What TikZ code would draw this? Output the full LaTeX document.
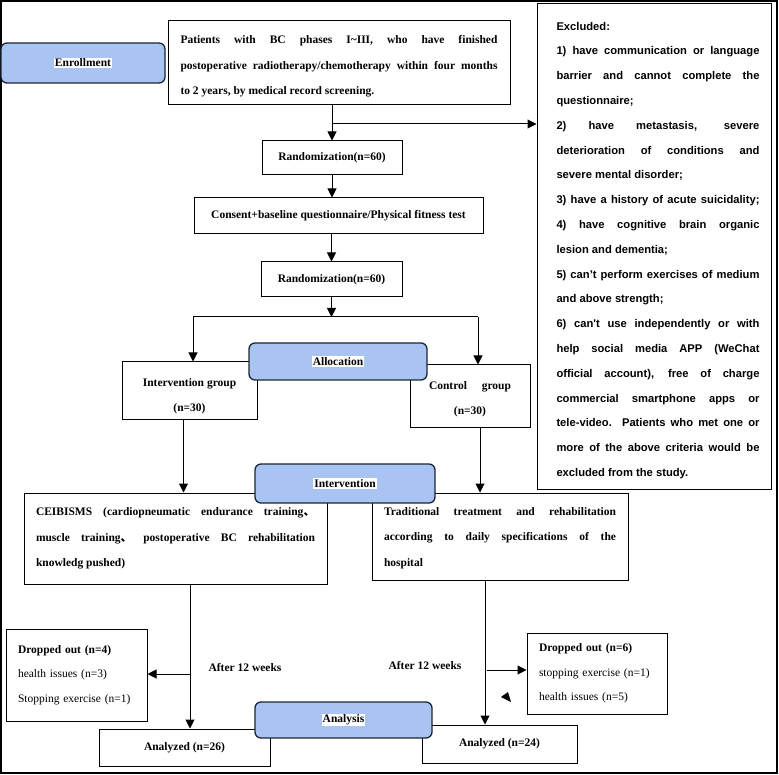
\documentclass[tikz,border=0pt]{standalone}
\usepackage{fontspec}
\setmainfont{Liberation Serif}
\newfontfamily\sansfam{Liberation Sans}
\newfontfamily\cjk{Noto Sans CJK SC}
\usetikzlibrary{arrows.meta}
\definecolor{phaseblue}{HTML}{A9C4F3}
\definecolor{phaseline}{HTML}{1C2633}
\setlength{\fboxsep}{1pt}
\begin{document}
\begin{tikzpicture}[x=1pt,y=-1pt,
  box/.style={draw, line width=1pt, fill=white, inner sep=0pt, font=\bfseries\fontsize{11.5}{25.5}\selectfont},
  plainbox/.style={box, font=\fontsize{11.5}{24.5}\selectfont},
  phase/.style={draw=phaseline, line width=1.3pt, fill=phaseblue, rounded corners=6pt, inner sep=0pt, font=\bfseries\fontsize{11.5}{13}\selectfont},
  arr/.style={line width=1pt, -{Triangle[length=9pt,width=9pt]}},
  ln/.style={line width=1pt}]
\useasboundingbox (0,0) rectangle (779,775);
\draw[line width=1.3pt] (1,1) rectangle (777,773);
\node[box, minimum width=342, minimum height=84] (pat) at (339,63) {\parbox{317pt}{\vspace*{7pt}Patients with BC phases I\textasciitilde III, who have finished\linebreak postoperative radiotherapy/chemotherapy within four months\linebreak to 2 years, by medical record screening.}};
\node[box, minimum width=140, minimum height=34] (rand1) at (332,158) {Randomization(n=60)};
\node[box, minimum width=289, minimum height=36] (cons) at (338.5,216) {Consent+baseline questionnaire/Physical fitness test};
\node[box, minimum width=141, minimum height=35] (rand2) at (331.5,279.5) {Randomization(n=60)};
\node[box, minimum width=135, minimum height=57] (ig) at (189.5,390.5) {\parbox{120pt}{\vspace*{11pt}\centering Intervention group\\(n=30)}};
\node[box, minimum width=120, minimum height=62] (cg) at (470,396) {\parbox{100pt}{\vspace*{6pt}\centering\makebox[82pt][s]{Control group}\\(n=30)}};
\node[box, minimum width=303, minimum height=91] (ceib) at (175.5,538.5) {\parbox{279pt}{CEIBISMS (cardiopneumatic endurance training{\cjk 、}\linebreak muscle training{\cjk 、} postoperative BC rehabilitation\linebreak knowledg pushed)}};
\node[box, minimum width=256, minimum height=87] (trad) at (500,536.5) {\parbox{232pt}{\vspace*{3pt}Traditional treatment and rehabilitation\linebreak according to daily specifications of the\linebreak hospital}};
\node[box, minimum width=234, minimum height=485, font=\sansfam\bfseries\fontsize{11.2}{24.8}\selectfont] (excl) at (654,246.5) {\hspace*{8pt}\parbox{203pt}{\vspace*{8pt}Excluded:\\
1) have communication or language\linebreak barrier and cannot complete the\linebreak questionnaire;\\
2) have metastasis, severe\linebreak deterioration of conditions and\linebreak severe mental disorder;\\
3) have a history of acute suicidality;\linebreak
4) have cognitive brain organic\linebreak lesion and dementia;\\
5) can’t perform exercises of medium\linebreak and above strength;\\
6) can't use independently or with\linebreak help social media APP (WeChat\linebreak official account), free of charge\linebreak commercial smartphone apps or\linebreak tele-video. Patients who met one or\linebreak more of the above criteria would be\linebreak excluded from the study.}};
\node[plainbox, minimum width=141, minimum height=92, text width=117, align=left] (drop4) at (76.5,675) {\textbf{Dropped out (n=4)}\\health issues (n=3)\\Stopping exercise (n=1)};
\node[plainbox, minimum width=140, minimum height=81, text width=116, align=left] (drop6) at (597,673.5) {\textbf{Dropped out (n=6)}\\stopping exercise (n=1)\\health issues (n=5)};
\node[box, minimum width=171, minimum height=37] (an26) at (184.5,747.5) {Analyzed (n=26)};
\node[box, minimum width=155, minimum height=38] (an24) at (499.5,744) {Analyzed (n=24)};
\node[font=\bfseries\fontsize{11.5}{13}\selectfont] (wk1) at (245,668) {After 12 weeks};
\node[font=\bfseries\fontsize{11.5}{13}\selectfont] (wk2) at (425,666) {After 12 weeks};
\draw[arr] (pat.south -| rand1.north) -- (rand1.north);
\coordinate (exc) at (332,124);
\draw[arr] (exc) -- (exc -| excl.west);
\draw[arr] (rand1.south) -- (rand1.south |- cons.north);
\draw[arr] (cons.south -| rand2.north) -- (rand2.north);
\coordinate (splL) at (193,317);
\coordinate (splR) at (478,317);
\draw[arr] (rand2.south) -- (rand2.south |- splL);
\draw[ln] (splL) -- (splR);
\draw[arr] (splL) -- (splL |- ig.north);
\draw[arr] (splR) -- (splR |- cg.north);
\draw[arr] ([xshift=-6]ig.south) -- ([xshift=-6]ig.south |- ceib.north);
\draw[arr] ([xshift=10]cg.south) -- ([xshift=10]cg.south |- trad.north);
\draw[arr] ([xshift=14.5]ceib.south) -- ([xshift=14.5]ceib.south |- an26.north);
\coordinate (d4) at (190,674);
\draw[arr] (d4) -- (d4 -| drop4.east);
\draw[arr] ([xshift=-15]trad.south) -- ([xshift=-15]trad.south |- an24.north);
\coordinate (d6) at (487,670);
\draw[arr] (d6) -- (d6 -| drop6.west);
\fill (501,697) -- (508,692) -- (511,702) -- cycle;
\node[phase, minimum width=164, minimum height=40] (enr) at (83,63) {\colorbox{white}{Enrollment}};
\node[phase, minimum width=178, minimum height=37] (alloc) at (338,361.5) {\colorbox{white}{Allocation}};
\node[phase, minimum width=180, minimum height=39] (intv) at (345,483.5) {\colorbox{white}{Intervention}};
\node[phase, minimum width=177, minimum height=36] (anal) at (343.5,720) {\colorbox{white}{Analysis}};
\end{tikzpicture}
\end{document}
